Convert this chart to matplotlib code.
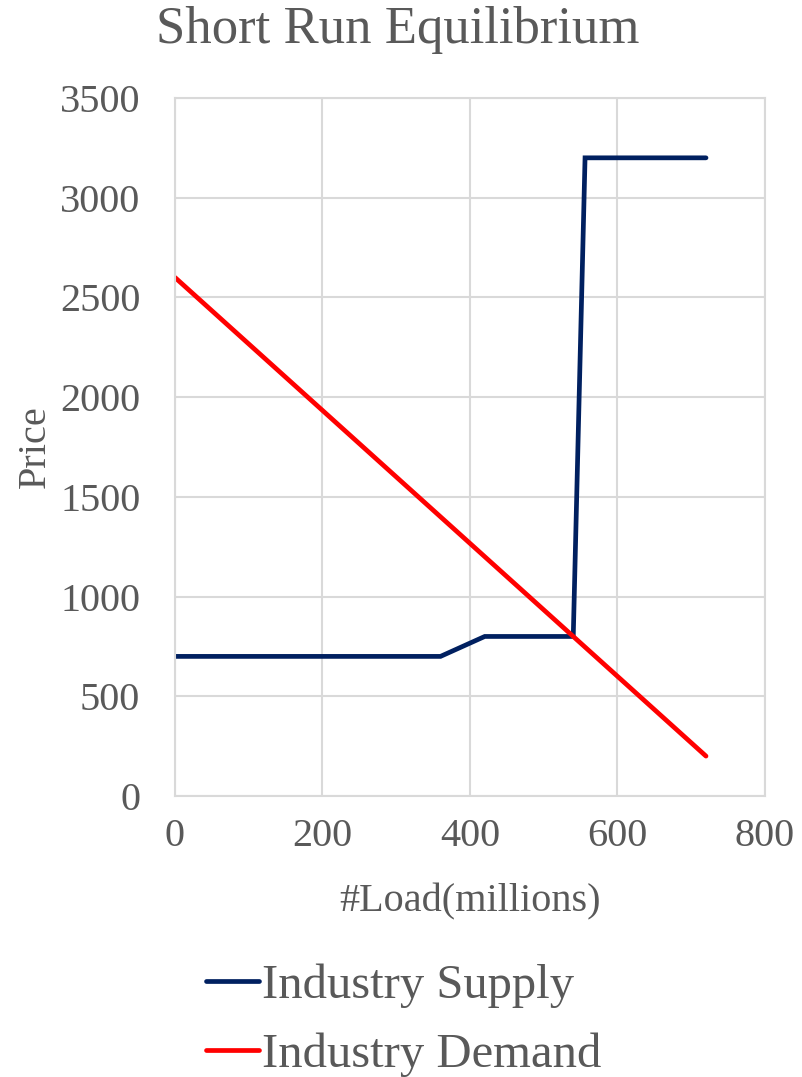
import matplotlib.pyplot as plt
import numpy as np

# data
supply_x = [0, 360, 420, 540, 556, 720]
supply_y = [700, 700, 800, 800, 3200, 3200]
demand_x = [0, 720]
demand_y = [2600, 200]

x_ticks = [0, 200, 400, 600, 800]
y_ticks = [0, 500, 1000, 1500, 2000, 2500, 3000, 3500]

txt = '#595959'
grid_c = '#d9d9d9'
plt.rcParams['font.family'] = ['Liberation Serif', 'DejaVu Serif']

fig = plt.figure(figsize=(8.03, 10.77), dpi=100)
ax = fig.add_axes([175/803, 1 - 796/1077, 590/803, 698/1077])

ax.plot(supply_x, supply_y, color='#002060', linewidth=3.4, label='Industry Supply',
        solid_capstyle='round', solid_joinstyle='miter')
ax.plot(demand_x, demand_y, color='#ff0000', linewidth=3.4, label='Industry Demand',
        solid_capstyle='round')

ax.set_xlim(0, 800)
ax.set_ylim(0, 3500)
ax.set_xticks(x_ticks)
ax.set_yticks(y_ticks)
ax.grid(True, color=grid_c, linewidth=1.5)
ax.set_axisbelow(True)
for s in ax.spines.values():
    s.set_color(grid_c)
    s.set_linewidth(1.5)
ax.tick_params(length=0, labelsize=29, labelcolor=txt)
ax.tick_params(axis='x', pad=16)
ax.tick_params(axis='y', pad=25)

ax.set_xlabel('#Load(millions)', fontsize=29, color=txt, labelpad=20)
ax.set_ylabel('Price', fontsize=29, color=txt, labelpad=4)
fig.text(0.5 * (155 + 640) / 803, 1 - 30/1077, 'Short Run Equilibrium', fontsize=38,
         color=txt, ha='center', va='center')

fig.legend(loc='upper left', bbox_to_anchor=(206/803, 1 - 964/1077), frameon=False,
           fontsize=35, labelcolor=txt, handlelength=1.1, handletextpad=0.05,
           labelspacing=0.5, borderaxespad=0, borderpad=0)

fig.savefig('out.png', dpi=100)
